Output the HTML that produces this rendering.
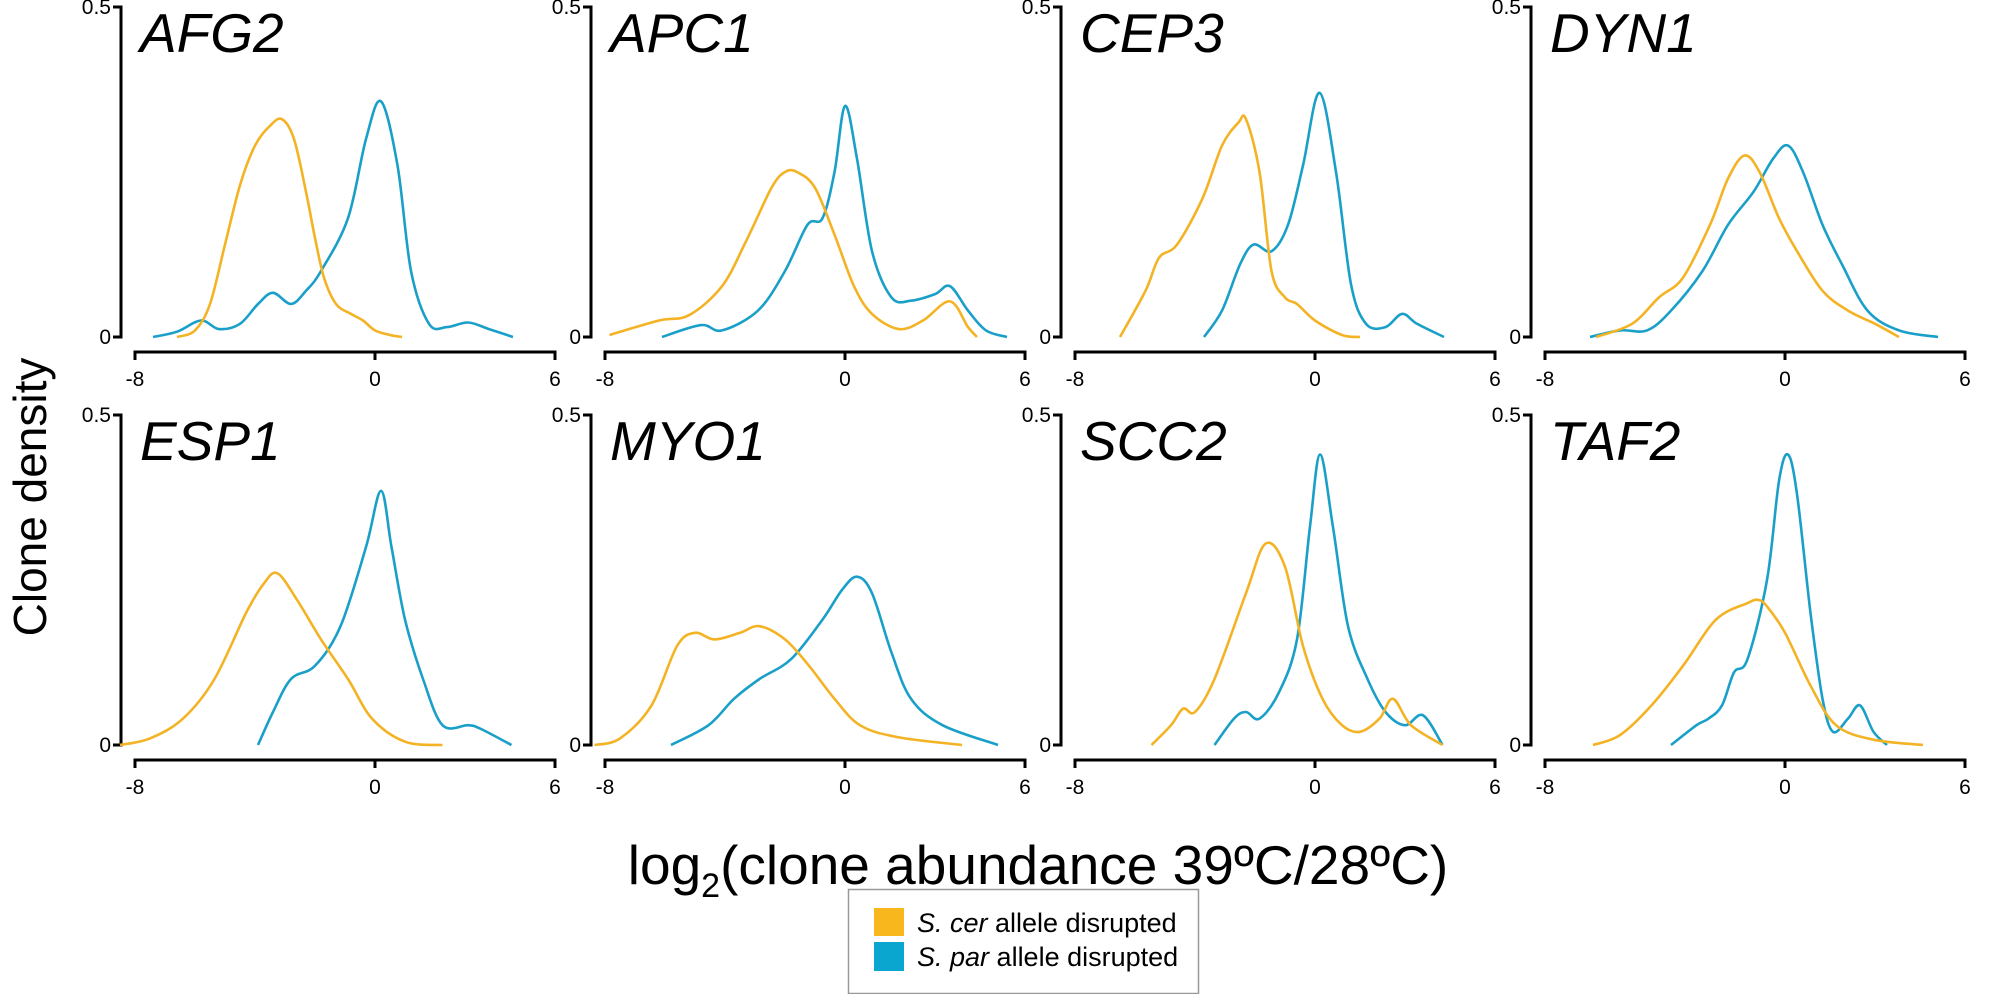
<!DOCTYPE html>
<html><head><meta charset="utf-8"><style>
html,body{margin:0;padding:0;background:#fff;}
svg{display:block;font-family:"Liberation Sans",Arial,sans-serif;}
</style></head><body>
<svg id="chart" width="2000" height="994" viewBox="0 0 2000 994">
<text x="46" y="497" font-size="46" text-anchor="middle" transform="rotate(-90 46 497)">Clone density</text>
<text x="1038" y="884" font-size="55" text-anchor="middle">log<tspan font-size="34" dy="13">2</tspan><tspan dy="-13">(clone abundance 39ºC/28ºC)</tspan></text>
<g>
<rect x="848.5" y="889.5" width="350" height="104" fill="#fff" stroke="#999" stroke-width="1.5"/>
<rect x="874" y="908" width="30" height="28" fill="#f8b71c"/>
<rect x="874" y="942" width="30" height="29" fill="#0ba6cf"/>
<text x="917" y="932" font-size="27"><tspan font-style="italic">S. cer</tspan> allele disrupted</text>
<text x="917" y="966" font-size="27"><tspan font-style="italic">S. par</tspan> allele disrupted</text>
</g>
<g id="panels"></g>
</svg>
<script>
const genes = ["AFG2","APC1","CEP3","DYN1","ESP1","MYO1","SCC2","TAF2"];
const xTicks = [-8, 0, 6];
const yTicks = [0, 0.5];
const yTickLabels = ["0", "0.5"];
const scerX = [
 [-6.6,-6,-5.5,-5,-4.5,-4,-3.5,-3.1,-2.7,-2.3,-2,-1.7,-1.3,-0.8,-0.4,0,0.5,0.9],
 [-7.85,-6.2,-5.2,-4.1,-3.3,-2.45,-2,-1.6,-1,-0.35,0.3,0.9,1.8,2.6,3.5,4.1,4.4],
 [-6.5,-5.65,-5.2,-4.6,-3.75,-3.1,-2.55,-2.3,-1.85,-1.45,-1,-0.6,0,0.9,1.5],
 [-6.3,-5.1,-4.2,-3.4,-2.5,-1.9,-1.35,-0.85,-0.2,0.4,1.25,2.1,3,3.8],
 [-8.5,-7.5,-6.4,-5.35,-4.3,-3.7,-3.25,-2.6,-1.8,-0.9,-0.1,1,2.25],
 [-8.35,-7.5,-6.45,-5.6,-5,-4.35,-3.5,-2.85,-2,-1.2,-0.35,0.5,1.75,3.9],
 [-5.45,-4.8,-4.4,-4,-3.35,-2.3,-1.65,-1,-0.4,0.25,0.9,1.5,2.15,2.6,3.2,4.25],
 [-6.4,-5.5,-4.45,-3.4,-2.3,-1.25,-0.9,-0.6,0,0.85,1.7,2.95,4.6]
];
const scerY = [
 [0,0.01,0.05,0.14,0.23,0.29,0.32,0.33,0.30,0.22,0.15,0.09,0.05,0.035,0.025,0.01,0.003,0],
 [0.003,0.025,0.033,0.077,0.145,0.226,0.25,0.25,0.226,0.155,0.077,0.035,0.012,0.025,0.054,0.015,0],
 [0,0.07,0.12,0.14,0.21,0.29,0.325,0.33,0.25,0.1,0.06,0.05,0.025,0.003,0],
 [0,0.02,0.06,0.09,0.17,0.24,0.275,0.25,0.18,0.13,0.07,0.04,0.02,0],
 [0,0.01,0.04,0.1,0.2,0.245,0.26,0.22,0.16,0.1,0.04,0.005,0],
 [0,0.01,0.06,0.15,0.17,0.16,0.17,0.18,0.16,0.12,0.07,0.03,0.012,0],
 [0,0.03,0.055,0.05,0.1,0.23,0.305,0.27,0.15,0.07,0.03,0.02,0.04,0.07,0.03,0],
 [0,0.015,0.06,0.12,0.19,0.215,0.22,0.21,0.17,0.09,0.03,0.008,0]
];
const sparX = [
 [-7.4,-6.6,-5.8,-5.2,-4.5,-3.9,-3.4,-2.8,-2.3,-1.8,-0.9,-0.3,0.2,0.75,1.2,1.8,2.4,3.1,3.8,4.6],
 [-6.1,-4.8,-4.1,-2.9,-2,-1.25,-0.75,-0.35,0,0.4,0.9,1.55,2.2,3,3.5,4.1,4.7,5.4],
 [-3.7,-3.1,-2.5,-2.05,-1.45,-0.9,-0.4,0.15,0.7,1.2,1.7,2.35,2.9,3.4,4.3],
 [-6.5,-5.5,-4.6,-3.8,-2.75,-1.9,-1.05,-0.4,0.1,0.6,1.25,1.9,2.75,3.8,5.1],
 [-3.9,-3.4,-2.8,-2,-1.15,-0.3,0.2,0.55,1,1.6,2.25,3.1,3.5,4.55],
 [-5.8,-4.55,-3.7,-2.85,-1.8,-0.75,-0.1,0.4,0.9,1.55,2.2,3.25,5.1],
 [-3.35,-2.7,-2.3,-1.85,-1.2,-0.6,-0.17,0.17,0.6,1.1,1.75,2.35,3,3.6,4.25],
 [-3.8,-2.95,-2.55,-2.1,-1.7,-1.25,-0.6,-0.2,0.1,0.4,0.85,1.25,1.6,2.1,2.5,2.95,3.4]
];
const sparY = [
 [0,0.008,0.025,0.012,0.02,0.05,0.067,0.05,0.07,0.1,0.18,0.3,0.357,0.26,0.1,0.02,0.015,0.022,0.012,0],
 [0,0.018,0.01,0.04,0.1,0.17,0.18,0.25,0.35,0.27,0.13,0.06,0.055,0.065,0.077,0.04,0.01,0],
 [0,0.04,0.11,0.14,0.13,0.17,0.26,0.37,0.25,0.08,0.02,0.015,0.035,0.02,0],
 [0,0.01,0.01,0.04,0.1,0.17,0.22,0.27,0.29,0.25,0.17,0.11,0.04,0.01,0],
 [0,0.05,0.1,0.12,0.18,0.3,0.385,0.3,0.19,0.1,0.03,0.03,0.025,0],
 [0,0.03,0.07,0.1,0.13,0.19,0.235,0.255,0.23,0.14,0.07,0.03,0],
 [0,0.04,0.05,0.04,0.08,0.16,0.33,0.44,0.33,0.18,0.1,0.05,0.03,0.045,0],
 [0,0.03,0.04,0.06,0.11,0.13,0.25,0.4,0.44,0.38,0.2,0.07,0.02,0.04,0.06,0.02,0]
];
const NS = "http://www.w3.org/2000/svg";
const root = document.getElementById("panels");
function mk(tag, attrs, parent){const e=document.createElementNS(NS,tag);for(const k in attrs)e.setAttribute(k,attrs[k]);parent.appendChild(e);return e;}
function smooth(pts){
  let d="M"+pts[0][0].toFixed(1)+","+pts[0][1].toFixed(1);
  for(let i=0;i<pts.length-1;i++){
    const p0=pts[Math.max(0,i-1)],p1=pts[i],p2=pts[i+1],p3=pts[Math.min(pts.length-1,i+2)];
    const c1x=p1[0]+(p2[0]-p0[0])/6,c1y=p1[1]+(p2[1]-p0[1])/6;
    const c2x=p2[0]-(p3[0]-p1[0])/6,c2y=p2[1]-(p3[1]-p1[1])/6;
    d+=" C"+c1x.toFixed(1)+","+c1y.toFixed(1)+" "+c2x.toFixed(1)+","+c2y.toFixed(1)+" "+p2[0].toFixed(1)+","+p2[1].toFixed(1);
  }
  return d;
}
genes.forEach((g,k)=>{
  const c=k%4, r=Math.floor(k/4);
  const ox=470*c, oy=408*r;
  const xs=v=>375+ox+v*30;
  const ys=v=>337+oy-v*660;
  const grp=mk("g",{},root);
  
  
  const ya=mk("path",{d:"M"+(113+ox)+","+ys(0.5)+" H"+(121+ox)+" V"+ys(0)+" H"+(113+ox),fill:"none",stroke:"#000","stroke-width":3},grp);
  
  
  yTicks.forEach((t,i)=>{
    const tl=mk("text",{x:111+ox,y:ys(t)+7,"font-size":21,"text-anchor":"end"},grp);
    tl.textContent=yTickLabels[i];
    
    
  });
  const y0=352+oy;
  const xa=mk("path",{d:"M"+xs(-8)+","+(y0+8)+" V"+y0+" H"+xs(6)+" V"+(y0+8)+" M"+xs(0)+","+y0+" V"+(y0+8),fill:"none",stroke:"#000","stroke-width":3},grp);
  
  
  xTicks.forEach(t=>{
    const tl=mk("text",{x:xs(t),y:y0+34,"font-size":21,"text-anchor":"middle"},grp);
    tl.textContent=String(t);
    
    
  });
  const tt=mk("text",{x:140+ox,y:52+oy,"font-size":55,"font-style":"italic"},grp);
  tt.textContent=g;
  
  
  const sp=mk("path",{d:smooth(sparX[k].map((v,i)=>[xs(v),ys(sparY[k][i])])),fill:"none",stroke:"#1aa0c8","stroke-width":2.6},grp);
  
  
  const sc=mk("path",{d:smooth(scerX[k].map((v,i)=>[xs(v),ys(scerY[k][i])])),fill:"none",stroke:"#f3b325","stroke-width":2.6},grp);
  
  
});
</script>
</body></html>
